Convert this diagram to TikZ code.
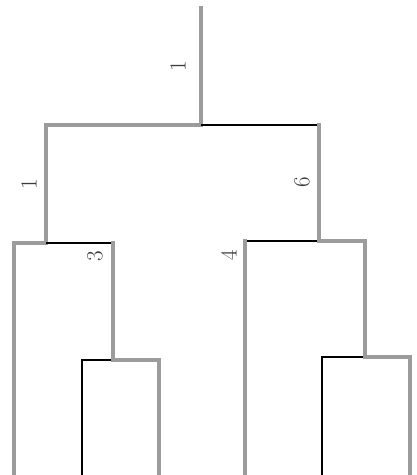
\documentclass[tikz,border=0pt]{standalone}
\usepackage{tikz}
\usepackage{xcolor}
\definecolor{heavyc}{HTML}{9C9C9C}
\definecolor{labc}{HTML}{3A3A3A}

\begin{document}
\begin{tikzpicture}[x=1pt, y=-1pt]
  \tikzset{heavy/.style={draw=heavyc, line width=4pt, line cap=rect},
           light/.style={draw=black, line width=1.1pt},
           lab/.style={font=\fontsize{23}{26}\selectfont, text=labc, rotate=90, inner sep=0pt}}
  \useasboundingbox (0,0) rectangle (417,475);

  % merge points
  \coordinate (top) at (201,8);
  \coordinate (root) at (201,125);
  \coordinate (c1) at (46,243);
  \coordinate (c2) at (319,241);
  \coordinate (c3) at (113,360);
  \coordinate (c4) at (365,357);
  % leaves
  \foreach \n/\x in {l1/14, l2/82, l3/159, l4/245, l5/322, l6/410}
    \coordinate (\n) at (\x,475);

  % root
  \draw[heavy] (top) -- (root);
  \draw[heavy] (root) -| (c1);
  \draw[light] (root) -- (root -| c2);
  \draw[heavy] (root -| c2) -- (c2);

  % left cluster
  \draw[heavy] (c1) -| (l1);
  \draw[light] (c1) -- (c1 -| c3);
  \draw[heavy] (c1 -| c3) -- (c3);
  \draw[light] (c3) -| (l2);
  \draw[heavy] (c3) -| (l3);

  % right cluster
  \draw[light] (c2) -- (c2 -| l4);
  \draw[heavy] (c2 -| l4) -- (l4);
  \draw[heavy] (c2) -| (c4);
  \draw[light] (c4) -| (l5);
  \draw[heavy] (c4) -| (l6);

  % labels
  \node[lab] (t0) at (178,66) {1};
  \node[lab] (t1) at (29,184) {1};
  \node[lab] (t2) at (302,182) {6};
  \node[lab] (t3) at (95,256) {3};
  \node[lab] (t4) at (229,255) {4};
\end{tikzpicture}
\end{document}
